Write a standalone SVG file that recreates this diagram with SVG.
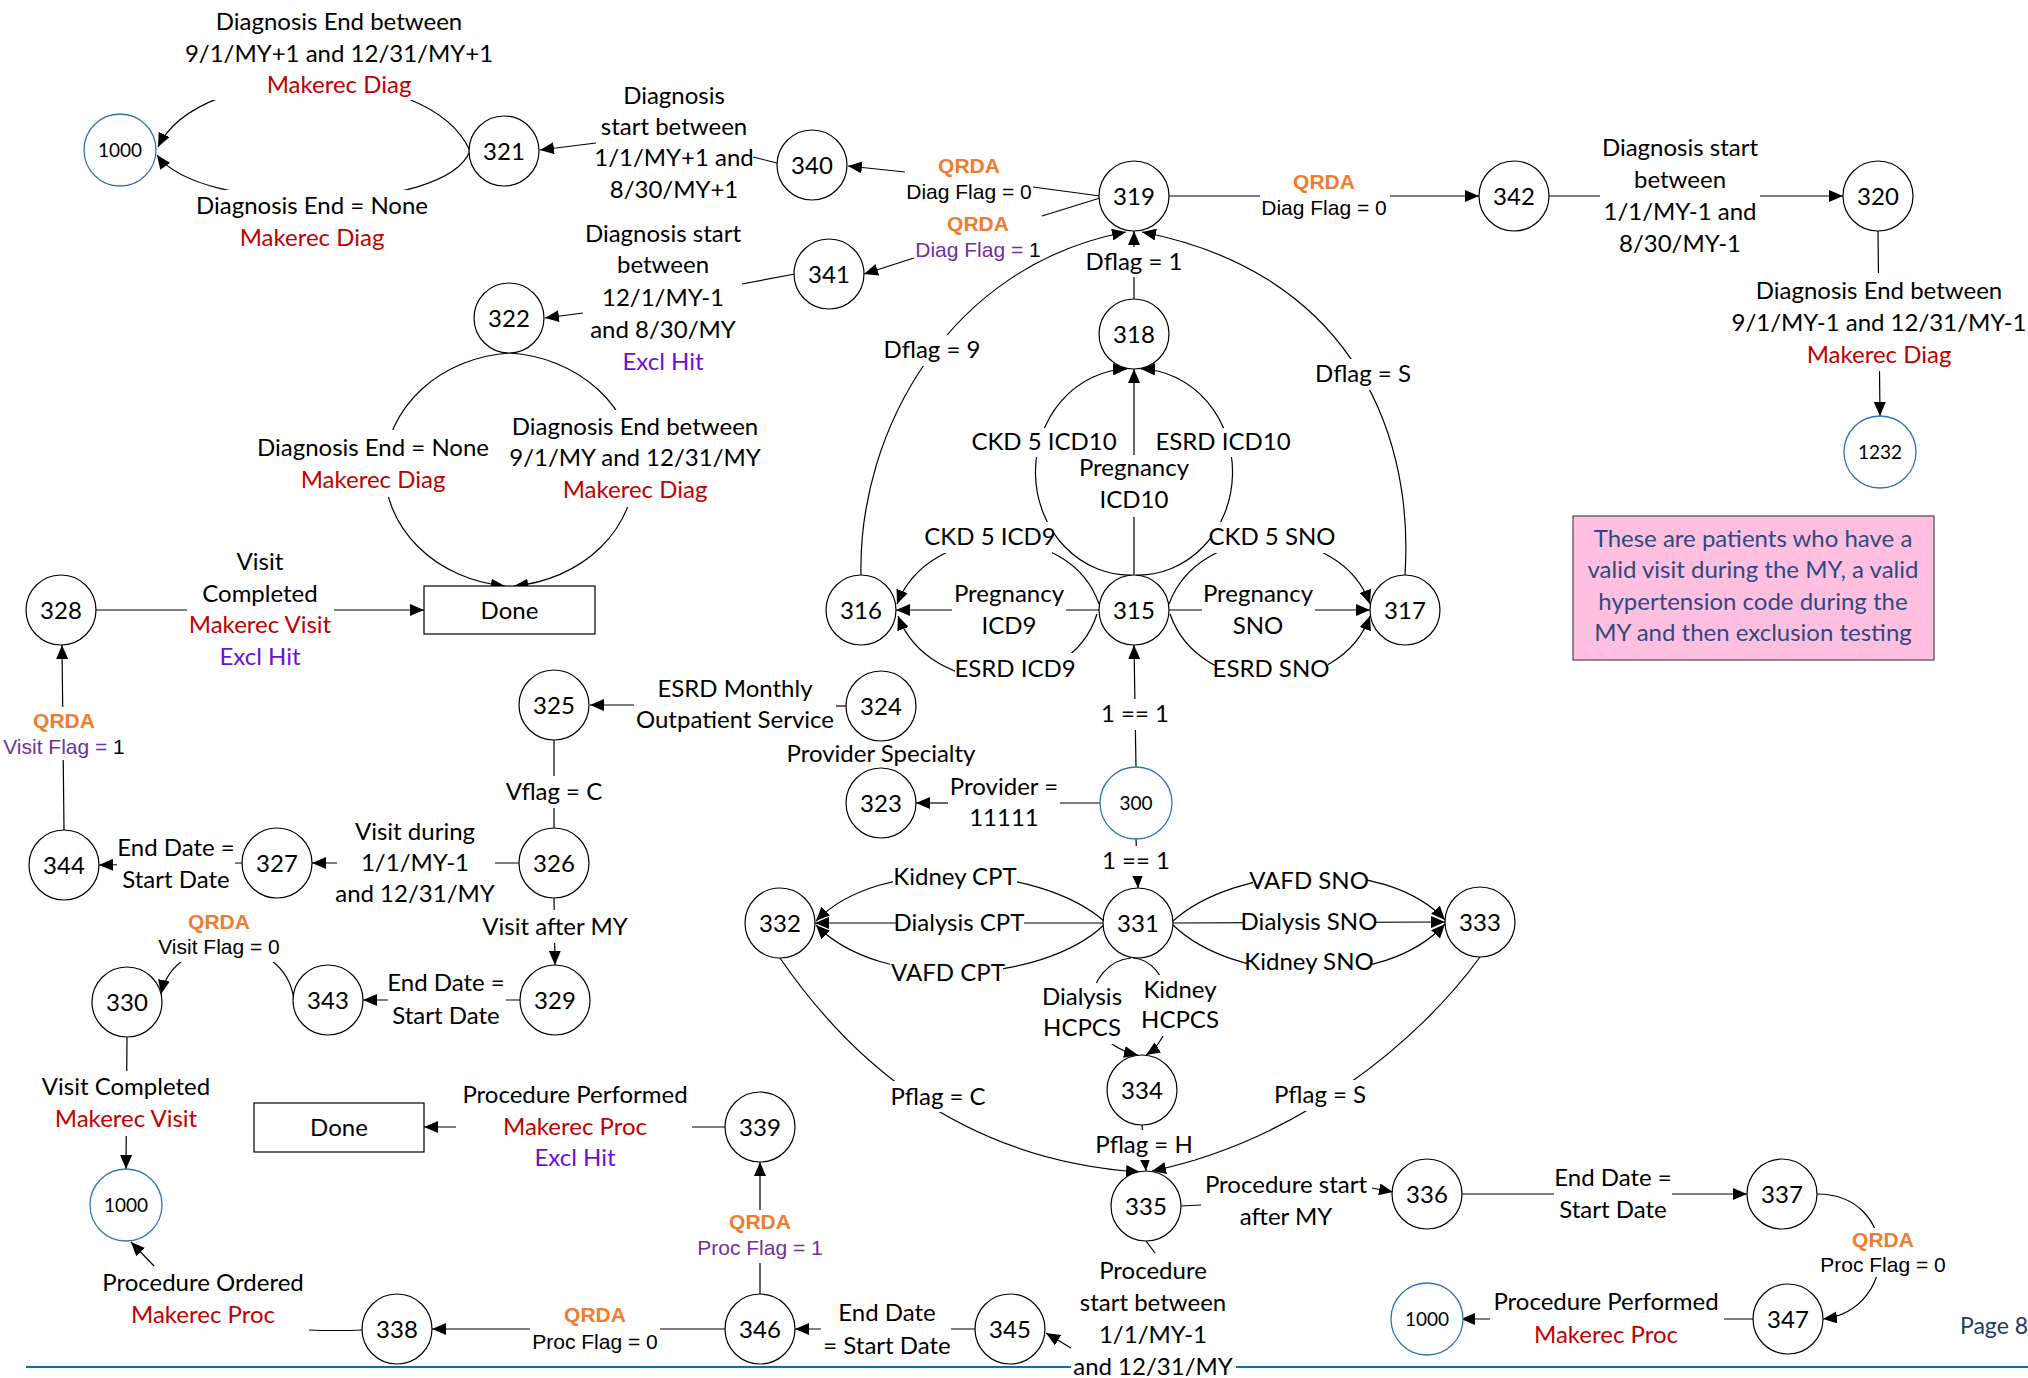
<svg xmlns="http://www.w3.org/2000/svg" width="2028" height="1378" viewBox="0 0 2028 1378">
<style>
.n{fill:#fff;stroke:#000;stroke-width:1.2}
.nb{fill:#fff;stroke:#2E75B6;stroke-width:1.3}
.t{font-family:Lato,'Liberation Sans',sans-serif;font-size:24px;text-anchor:middle;fill:#000}
.ts{font-family:Lato,'Liberation Sans',sans-serif;font-size:19px;text-anchor:middle;fill:#000}
.q{font-family:'Liberation Sans',Arial,sans-serif;font-size:21px;font-weight:bold;fill:#ED7D31;text-anchor:middle}
.a{font-family:'Liberation Sans',Arial,sans-serif;font-size:21px;fill:#000;text-anchor:middle}
.red{fill:#C00000}
.exc{fill:#6A10D8}
.pur{fill:#7030A0}
.c{fill:none;stroke:#000;stroke-width:1.2}
.ar{marker-end:url(#ah)}
.m{fill:#fff}
.note{font-family:Lato,'Liberation Sans',sans-serif;font-size:24px;text-anchor:middle;fill:#2F4A7F}
</style>
<defs>
<marker id="ah" viewBox="0 0 14 12" refX="14" refY="6" markerWidth="14" markerHeight="12" markerUnits="userSpaceOnUse" orient="auto">
<path d="M0,0 L14,6 L0,12 z" fill="#000"/>
</marker>
</defs>
<rect width="2028" height="1378" fill="#fff"/>
<line x1="26" y1="1367" x2="2028" y2="1367" stroke="#0070C0" stroke-width="2"/>

<g id="connectors">
<path class="c ar" d="M470,151 C430,60 200,60 158,147"/>
<path class="c ar" d="M470,151 C445,215 200,215 157,155"/>
<path class="c" d="M777,163 L753,157"/>
<path class="c ar" d="M596,143 L540,150"/>
<path class="c" d="M1100,196 L1033,187"/>
<path class="c ar" d="M905,172 L848,166"/>
<path class="c" d="M1100,198 L1042,216"/>
<path class="c ar" d="M914,258 L864,274"/>
<path class="c" d="M795,274 L742,284"/>
<path class="c ar" d="M583,313 L545,318"/>
<path class="c ar" d="M510,353 A135,117 0 0 0 505,586"/>
<path class="c ar" d="M510,353 A135,117 0 0 1 514,586"/>
<path class="c ar" d="M96,610 L424,610"/>
<path class="c ar" d="M64,830 L62,645"/>
<path class="c" d="M846,706 L836,706"/>
<path class="c ar" d="M634,705 L590,705"/>
<path class="c" d="M1100,803 L1060,803"/>
<path class="c ar" d="M948,803 L916,803"/>
<path class="c ar" d="M1136,767 L1134,645"/>
<path class="c ar" d="M1136,839 L1138,888"/>
<path class="c ar" d="M1099,610 L896,610"/>
<path class="c ar" d="M1099,604 C1070,520 930,520 897,604"/>
<path class="c ar" d="M1097,614 C1070,700 930,700 898,616"/>
<path class="c ar" d="M1169,610 L1370,610"/>
<path class="c ar" d="M1169,604 C1200,520 1340,520 1370,604"/>
<path class="c ar" d="M1170,614 C1200,700 1340,700 1370,616"/>
<path class="c ar" d="M1134,575 L1134,369"/>
<path class="c ar" d="M1132,575 A94,103 0 0 1 1127,369"/>
<path class="c ar" d="M1136,575 A94,103 0 0 0 1141,369"/>
<path class="c ar" d="M1134,299 L1134,231"/>
<path class="c ar" d="M861,575 C858,430 950,265 1126,232"/>
<path class="c ar" d="M1405,575 C1415,420 1340,270 1142,232"/>
<path class="c ar" d="M1169,196 L1479,196"/>
<path class="c ar" d="M1549,196 L1843,196"/>
<path class="c ar" d="M1878,231 L1880,416"/>
<path class="c" d="M554,740 L554,828"/>
<path class="c ar" d="M519,863 L312,863"/>
<path class="c ar" d="M243,863 L99,865"/>
<path class="c ar" d="M554,898 L555,965"/>
<path class="c ar" d="M521,1000 L363,1000"/>
<path class="c ar" d="M294,1000 C285,930 175,930 161,994"/>
<path class="c ar" d="M127,1037 L126,1169"/>
<path class="c" d="M362,1330 Q335,1331 309,1330"/>
<path class="c ar" d="M154,1266 L131,1242"/>
<path class="c ar" d="M725,1329 L432,1329"/>
<path class="c ar" d="M760,1294 L760,1162"/>
<path class="c ar" d="M725,1127 L424,1127"/>
<path class="c ar" d="M976,1329 L795,1329"/>
<path class="c" d="M1146,1241 L1155,1253"/>
<path class="c ar" d="M1071,1348 L1046,1333"/>
<path class="c" d="M1181,1206 L1201,1205"/>
<path class="c ar" d="M1372,1188 L1393,1192"/>
<path class="c ar" d="M1462,1194 L1747,1194"/>
<path class="c ar" d="M1817,1194 C1900,1194 1900,1310 1823,1319"/>
<path class="c ar" d="M1754,1319 L1461,1319"/>
<path class="c ar" d="M1103,923 L815,923"/>
<path class="c ar" d="M1104,921 C1040,865 880,855 816,921"/>
<path class="c ar" d="M1104,925 C1040,985 880,991 816,925"/>
<path class="c ar" d="M1173,923 L1445,922"/>
<path class="c ar" d="M1173,921 C1235,865 1385,855 1445,920"/>
<path class="c ar" d="M1173,925 C1235,985 1385,990 1445,924"/>
<path class="c ar" d="M1131,958 C1085,962 1070,1040 1138,1055"/>
<path class="c ar" d="M1133,958 C1170,960 1185,1030 1146,1055"/>
<path class="c ar" d="M1142,1125 L1146,1171"/>
<path class="c ar" d="M780,958 C850,1060 960,1160 1140,1172"/>
<path class="c ar" d="M1480,957 C1420,1040 1300,1140 1152,1171"/>
</g>

<g id="label-backgrounds">
<rect class="m" x="188" y="5" width="302" height="95"/>
<rect class="m" x="194" y="190" width="236" height="62"/>
<rect class="m" x="255" y="430" width="235" height="67"/>
<rect class="m" x="512" y="410" width="250" height="97"/>
<rect class="m" x="187" y="545" width="147" height="130"/>
<rect class="m" x="0" y="707" width="130" height="53"/>
<rect class="m" x="1100" y="699" width="70" height="31"/>
<rect class="m" x="1100" y="846" width="72" height="30"/>
<rect class="m" x="952" y="578" width="114" height="64"/>
<rect class="m" x="930" y="522" width="122" height="31"/>
<rect class="m" x="955" y="653" width="120" height="32"/>
<rect class="m" x="1202" y="578" width="113" height="64"/>
<rect class="m" x="1212" y="522" width="118" height="31"/>
<rect class="m" x="1215" y="653" width="113" height="32"/>
<rect class="m" x="1082" y="455" width="104" height="62"/>
<rect class="m" x="975" y="428" width="137" height="29"/>
<rect class="m" x="1160" y="428" width="128" height="29"/>
<rect class="m" x="1085" y="247" width="100" height="30"/>
<rect class="m" x="886" y="335" width="92" height="31"/>
<rect class="m" x="1317" y="359" width="92" height="31"/>
<rect class="m" x="1260" y="168" width="130" height="54"/>
<rect class="m" x="1600" y="130" width="160" height="132"/>
<rect class="m" x="1732" y="273" width="294" height="98"/>
<rect class="m" x="500" y="776" width="110" height="32"/>
<rect class="m" x="337" y="815" width="158" height="95"/>
<rect class="m" x="117" y="832" width="118" height="64"/>
<rect class="m" x="470" y="910" width="170" height="33"/>
<rect class="m" x="388" y="968" width="118" height="64"/>
<rect class="m" x="150" y="908" width="140" height="54"/>
<rect class="m" x="38" y="1071" width="177" height="65"/>
<rect class="m" x="530" y="1300" width="130" height="57"/>
<rect class="m" x="690" y="1210" width="140" height="53"/>
<rect class="m" x="456" y="1078" width="236" height="97"/>
<rect class="m" x="821" y="1297" width="130" height="65"/>
<rect class="m" x="1071" y="1352" width="165" height="26"/>
<rect class="m" x="1554" y="1162" width="118" height="64"/>
<rect class="m" x="1818" y="1228" width="130" height="49"/>
<rect class="m" x="1490" y="1286" width="234" height="66"/>
<rect class="m" x="896" y="908" width="128" height="30"/>
<rect class="m" x="893" y="862" width="124" height="30"/>
<rect class="m" x="890" y="958" width="113" height="32"/>
<rect class="m" x="1244" y="908" width="131" height="30"/>
<rect class="m" x="1253" y="866" width="113" height="30"/>
<rect class="m" x="1247" y="947" width="125" height="30"/>
<rect class="m" x="1042" y="983" width="82" height="61"/>
<rect class="m" x="1142" y="975" width="77" height="61"/>
<rect class="m" x="1095" y="1130" width="100" height="30"/>
<rect class="m" x="890" y="1081" width="100" height="31"/>
<rect class="m" x="1274" y="1080" width="93" height="31"/>
</g>

<g id="nodes">
<g id="n1000a"><circle class="nb" cx="120" cy="150" r="36"/><text class="ts" x="120" y="157">1000</text></g>
<g id="n321"><circle class="n" cx="504" cy="151" r="35"/><text class="t" x="504" y="160">321</text></g>
<g id="n322"><circle class="n" cx="509" cy="318" r="35"/><text class="t" x="509" y="327">322</text></g>
<g id="n340"><circle class="n" cx="812" cy="165" r="35"/><text class="t" x="812" y="174">340</text></g>
<g id="n341"><circle class="n" cx="829" cy="274" r="35"/><text class="t" x="829" y="283">341</text></g>
<g id="n319"><circle class="n" cx="1134" cy="196" r="35"/><text class="t" x="1134" y="205">319</text></g>
<g id="n318"><circle class="n" cx="1134" cy="334" r="35"/><text class="t" x="1134" y="343">318</text></g>
<g id="n342"><circle class="n" cx="1514" cy="196" r="35"/><text class="t" x="1514" y="205">342</text></g>
<g id="n320"><circle class="n" cx="1878" cy="196" r="35"/><text class="t" x="1878" y="205">320</text></g>
<g id="n1232"><circle class="nb" cx="1880" cy="452" r="36"/><text class="ts" x="1880" y="459">1232</text></g>
<g id="n328"><circle class="n" cx="61" cy="610" r="35"/><text class="t" x="61" y="619">328</text></g>
<g id="done1"><rect x="424" y="586" width="171" height="48" fill="#fff" stroke="#000" stroke-width="1.2"/><text class="t" x="509.5" y="619">Done</text></g>
<g id="n325"><circle class="n" cx="554" cy="705" r="35"/><text class="t" x="554" y="714">325</text></g>
<g id="n326"><circle class="n" cx="554" cy="863" r="35"/><text class="t" x="554" y="872">326</text></g>
<g id="n327"><circle class="n" cx="277" cy="863" r="35"/><text class="t" x="277" y="872">327</text></g>
<g id="n344"><circle class="n" cx="64" cy="865" r="35"/><text class="t" x="64" y="874">344</text></g>
<g id="n316"><circle class="n" cx="861" cy="610" r="35"/><text class="t" x="861" y="619">316</text></g>
<g id="n315"><circle class="n" cx="1134" cy="610" r="35"/><text class="t" x="1134" y="619">315</text></g>
<g id="n317"><circle class="n" cx="1405" cy="610" r="35"/><text class="t" x="1405" y="619">317</text></g>
<g id="n324"><circle class="n" cx="881" cy="706" r="35"/><text class="t" x="881" y="715">324</text></g>
<g id="n323"><circle class="n" cx="881" cy="803" r="35"/><text class="t" x="881" y="812">323</text></g>
<g id="n300"><circle class="nb" cx="1136" cy="803" r="36"/><text class="ts" x="1136" y="810">300</text></g>
<g id="n331"><circle class="n" cx="1138" cy="923" r="35"/><text class="t" x="1138" y="932">331</text></g>
<g id="n332"><circle class="n" cx="780" cy="923" r="35"/><text class="t" x="780" y="932">332</text></g>
<g id="n333"><circle class="n" cx="1480" cy="922" r="35"/><text class="t" x="1480" y="931">333</text></g>
<g id="n334"><circle class="n" cx="1142" cy="1090" r="35"/><text class="t" x="1142" y="1099">334</text></g>
<g id="n335"><circle class="n" cx="1146" cy="1206" r="35"/><text class="t" x="1146" y="1215">335</text></g>
<g id="n336"><circle class="n" cx="1427" cy="1194" r="35"/><text class="t" x="1427" y="1203">336</text></g>
<g id="n337"><circle class="n" cx="1782" cy="1194" r="35"/><text class="t" x="1782" y="1203">337</text></g>
<g id="n347"><circle class="n" cx="1788" cy="1319" r="35"/><text class="t" x="1788" y="1328">347</text></g>
<g id="n1000c"><circle class="nb" cx="1427" cy="1319" r="36"/><text class="ts" x="1427" y="1326">1000</text></g>
<g id="n339"><circle class="n" cx="760" cy="1127" r="35"/><text class="t" x="760" y="1136">339</text></g>
<g id="n346"><circle class="n" cx="760" cy="1329" r="35"/><text class="t" x="760" y="1338">346</text></g>
<g id="n345"><circle class="n" cx="1010" cy="1329" r="35"/><text class="t" x="1010" y="1338">345</text></g>
<g id="n330"><circle class="n" cx="127" cy="1002" r="35"/><text class="t" x="127" y="1011">330</text></g>
<g id="n343"><circle class="n" cx="328" cy="1000" r="35"/><text class="t" x="328" y="1009">343</text></g>
<g id="n329"><circle class="n" cx="555" cy="1000" r="35"/><text class="t" x="555" y="1009">329</text></g>
<g id="done2"><rect x="254" y="1103" width="170" height="49" fill="#fff" stroke="#000" stroke-width="1.2"/><text class="t" x="339" y="1136">Done</text></g>
<g id="n1000b"><circle class="nb" cx="126" cy="1205" r="36"/><text class="ts" x="126" y="1212">1000</text></g>
<g id="n338"><circle class="n" cx="397" cy="1329" r="35"/><text class="t" x="397" y="1338">338</text></g>
<g id="note"><rect x="1573" y="516" width="361" height="144" fill="#FFBFE0" stroke="#555" stroke-width="1.3"/>
<text class="note" x="1753" y="547">These are patients who have a</text>
<text class="note" x="1753" y="578">valid visit during the MY, a valid</text>
<text class="note" x="1753" y="610">hypertension code during the</text>
<text class="note" x="1753" y="641">MY and then exclusion testing</text></g>
</g>

<g id="labels">
<text class="t" x="339" y="30">Diagnosis End between</text>
<text class="t" x="339" y="62">9/1/MY+1 and 12/31/MY+1</text>
<text class="t red" x="339" y="93">Makerec Diag</text>
<text class="t" x="312" y="214">Diagnosis End = None</text>
<text class="t red" x="312" y="246">Makerec Diag</text>
<text class="t" x="674" y="104">Diagnosis</text>
<text class="t" x="674" y="135">start between</text>
<text class="t" x="674" y="166">1/1/MY+1 and</text>
<text class="t" x="674" y="198">8/30/MY+1</text>
<text class="q" x="969" y="173">QRDA</text>
<text class="a" x="969" y="199">Diag Flag = 0</text>
<text class="q" x="978" y="231">QRDA</text>
<text class="a" x="978" y="257"><tspan class="pur">Diag Flag = </tspan>1</text>
<text class="t" x="663" y="242">Diagnosis start</text>
<text class="t" x="663" y="273">between</text>
<text class="t" x="663" y="306">12/1/MY-1</text>
<text class="t" x="663" y="338">and 8/30/MY</text>
<text class="t exc" x="663" y="370">Excl Hit</text>
<text class="t" x="373" y="456">Diagnosis End = None</text>
<text class="t red" x="373" y="488">Makerec Diag</text>
<text class="t" x="635" y="435">Diagnosis End between</text>
<text class="t" x="635" y="466">9/1/MY and 12/31/MY</text>
<text class="t red" x="635" y="498">Makerec Diag</text>
<text class="t" x="260" y="570">Visit</text>
<text class="t" x="260" y="602">Completed</text>
<text class="t red" x="260" y="633">Makerec Visit</text>
<text class="t exc" x="260" y="665">Excl Hit</text>
<text class="q" x="64" y="728">QRDA</text>
<text class="a" x="64" y="754"><tspan class="pur">Visit Flag = </tspan>1</text>
<text class="t" x="735" y="697">ESRD Monthly</text>
<text class="t" x="735" y="728">Outpatient Service</text>
<text class="t" x="881" y="762">Provider Specialty</text>
<text class="t" x="1004" y="795">Provider =</text>
<text class="t" x="1004" y="826">11111</text>
<text class="t" x="1135" y="722">1 == 1</text>
<text class="t" x="1136" y="869">1 == 1</text>
<text class="t" x="1009" y="602">Pregnancy</text>
<text class="t" x="1009" y="634">ICD9</text>
<text class="t" x="990" y="545">CKD 5 ICD9</text>
<text class="t" x="1015" y="677">ESRD ICD9</text>
<text class="t" x="1258" y="602">Pregnancy</text>
<text class="t" x="1258" y="634">SNO</text>
<text class="t" x="1272" y="545">CKD 5 SNO</text>
<text class="t" x="1271" y="677">ESRD SNO</text>
<text class="t" x="1134" y="476">Pregnancy</text>
<text class="t" x="1134" y="508">ICD10</text>
<text class="t" x="1044" y="450">CKD 5 ICD10</text>
<text class="t" x="1223" y="450">ESRD ICD10</text>
<text class="t" x="1134" y="270">Dflag = 1</text>
<text class="t" x="932" y="358">Dflag = 9</text>
<text class="t" x="1363" y="382">Dflag = S</text>
<text class="q" x="1324" y="189">QRDA</text>
<text class="a" x="1324" y="215">Diag Flag = 0</text>
<text class="t" x="1680" y="156">Diagnosis start</text>
<text class="t" x="1680" y="188">between</text>
<text class="t" x="1680" y="220">1/1/MY-1 and</text>
<text class="t" x="1680" y="252">8/30/MY-1</text>
<text class="t" x="1879" y="299">Diagnosis End between</text>
<text class="t" x="1879" y="331">9/1/MY-1 and 12/31/MY-1</text>
<text class="t red" x="1879" y="363">Makerec Diag</text>
<text class="t" x="554" y="800">Vflag = C</text>
<text class="t" x="415" y="840">Visit during</text>
<text class="t" x="415" y="871">1/1/MY-1</text>
<text class="t" x="415" y="902">and 12/31/MY</text>
<text class="t" x="176" y="856">End Date =</text>
<text class="t" x="176" y="888">Start Date</text>
<text class="t" x="555" y="935">Visit after MY</text>
<text class="t" x="446" y="991">End Date =</text>
<text class="t" x="446" y="1024">Start Date</text>
<text class="q" x="219" y="929">QRDA</text>
<text class="a" x="219" y="954">Visit Flag = 0</text>
<text class="t" x="126" y="1095">Visit Completed</text>
<text class="t red" x="126" y="1127">Makerec Visit</text>
<text class="t" x="203" y="1291">Procedure Ordered</text>
<text class="t red" x="203" y="1323">Makerec Proc</text>
<text class="q" x="595" y="1322">QRDA</text>
<text class="a" x="595" y="1349">Proc Flag = 0</text>
<text class="q" x="760" y="1229">QRDA</text>
<text class="a pur" x="760" y="1255">Proc Flag = 1</text>
<text class="t" x="575" y="1103">Procedure Performed</text>
<text class="t red" x="575" y="1135">Makerec Proc</text>
<text class="t exc" x="575" y="1166">Excl Hit</text>
<text class="t" x="887" y="1321">End Date</text>
<text class="t" x="887" y="1354">= Start Date</text>
<text class="t" x="1153" y="1279">Procedure</text>
<text class="t" x="1153" y="1311">start between</text>
<text class="t" x="1153" y="1343">1/1/MY-1</text>
<text class="t" x="1153" y="1375">and 12/31/MY</text>
<text class="t" x="1286" y="1193">Procedure start</text>
<text class="t" x="1286" y="1225">after MY</text>
<text class="t" x="1613" y="1186">End Date =</text>
<text class="t" x="1613" y="1218">Start Date</text>
<text class="q" x="1883" y="1247">QRDA</text>
<text class="a" x="1883" y="1272">Proc Flag = 0</text>
<text class="t" x="1606" y="1310">Procedure Performed</text>
<text class="t red" x="1606" y="1343">Makerec Proc</text>
<text class="t" x="959" y="931">Dialysis CPT</text>
<text class="t" x="955" y="885">Kidney CPT</text>
<text class="t" x="948" y="981">VAFD CPT</text>
<text class="t" x="1309" y="930">Dialysis SNO</text>
<text class="t" x="1309" y="889">VAFD SNO</text>
<text class="t" x="1309" y="970">Kidney SNO</text>
<text class="t" x="1082" y="1005">Dialysis</text>
<text class="t" x="1082" y="1036">HCPCS</text>
<text class="t" x="1180" y="998">Kidney</text>
<text class="t" x="1180" y="1028">HCPCS</text>
<text class="t" x="1144" y="1153">Pflag = H</text>
<text class="t" x="938" y="1105">Pflag = C</text>
<text class="t" x="1320" y="1103">Pflag = S</text>
<text x="1960" y="1334" font-family="Lato,'Liberation Sans',sans-serif" font-size="23" fill="#1F3864">Page 8</text>
</g>
</svg>
